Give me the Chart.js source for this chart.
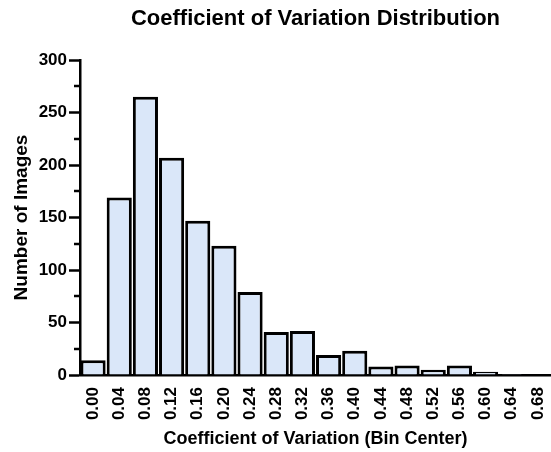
<!DOCTYPE html>
<html>
<head>
<meta charset="utf-8">
<script src="https://cdn.jsdelivr.net/npm/chart.js@4.4.1/dist/chart.umd.min.js"></script>
<style>
  html, body { margin: 0; padding: 0; background: #fff; }
  #wrap { width: 551px; height: 452px; }
</style>
</head>
<body>
<div id="wrap"><canvas id="cvChart"></canvas></div>
<script>
// bin centers (x categories) and counts per bin
const binCenters = ['0.00', '0.04', '0.08', '0.12', '0.16', '0.20', '0.24', '0.28', '0.32',
                    '0.36', '0.40', '0.44', '0.48', '0.52', '0.56', '0.60', '0.64', '0.68'];
const imageCounts = [14, 169, 265, 207, 147, 123, 79, 41, 42, 19, 23, 8, 9, 5, 9, 3, 1, 0];
const yMajorTicks = [0, 50, 100, 150, 200, 250, 300];
const yMinorTicks = [25, 75, 125, 175, 225, 275];

const FONT = 'Liberation Sans, Arial, Helvetica, sans-serif';

// minor ticks on the y axis (shorter than the labelled ones)
const minorTicks = {
    id: 'minorTicks',
    afterDraw(chart) {
        const y = chart.scales.y;
        const ctx = chart.ctx;
        ctx.save();
        ctx.strokeStyle = '#000';
        ctx.lineWidth = 2.5;
        yMinorTicks.forEach(v => {
            const py = Math.round(y.getPixelForValue(v));
            ctx.beginPath();
            ctx.moveTo(y.right, py);
            ctx.lineTo(y.right - 6, py);
            ctx.stroke();
        });
        ctx.restore();
    }
};

new Chart(document.getElementById('cvChart'), {
    type: 'bar',
    data: {
        labels: binCenters,
        datasets: [{
            label: 'Number of Images',
            data: imageCounts,
            backgroundColor: '#dae7f9',
            borderColor: '#000',
            borderWidth: 3,
            barPercentage: 0.96,
            categoryPercentage: 1.0
        }]
    },
    options: {
        responsive: true,
        maintainAspectRatio: false,
        animation: false,
        layout: { padding: 0 },
        plugins: {
            legend: { display: false },
            tooltip: { enabled: false },
            title: {
                display: true,
                text: 'Coefficient of Variation Distribution',
                fullSize: false,
                color: '#000',
                font: { family: FONT, size: 22, weight: 'bold' },
                padding: { top: 6, bottom: 27.6 }
            }
        },
        scales: {
            x: {
                grid: { display: false, drawOnChartArea: false, drawTicks: true, tickLength: 9, tickWidth: 2.5, tickColor: '#000' },
                border: { display: true, color: '#000', width: 2.5 },
                ticks: {
                    color: '#000',
                    font: { family: FONT, size: 17, weight: 'bold' },
                    minRotation: 90,
                    maxRotation: 90,
                    autoSkip: false,
                    padding: 3
                },
                title: {
                    display: true,
                    text: 'Coefficient of Variation (Bin Center)',
                    color: '#000',
                    font: { family: FONT, size: 18, weight: 'bold' },
                    padding: { top: 0, bottom: 2 }
                },
                afterFit(scale) {
                    scale.height = 77;
                    scale.paddingLeft = 0;
                    scale.paddingRight = 0;
                }
            },
            y: {
                min: 0,
                max: 300,
                grid: { display: true, drawOnChartArea: false, drawTicks: true, tickLength: 11, tickWidth: 2.5, tickColor: '#000' },
                border: { display: true, color: '#000', width: 2.5 },
                ticks: {
                    color: '#000',
                    font: { family: FONT, size: 17, weight: 'bold' },
                    padding: 2
                },
                afterBuildTicks(scale) {
                    scale.ticks = yMajorTicks.map(v => ({ value: v }));
                },
                title: {
                    display: true,
                    text: 'Number of Images',
                    color: '#000',
                    font: { family: FONT, size: 19, weight: 'bold' },
                    padding: { top: 10, bottom: 0 }
                },
                afterFit(scale) {
                    scale.width = 80;
                }
            }
        }
    },
    plugins: [minorTicks]
});
</script>
</body>
</html>
